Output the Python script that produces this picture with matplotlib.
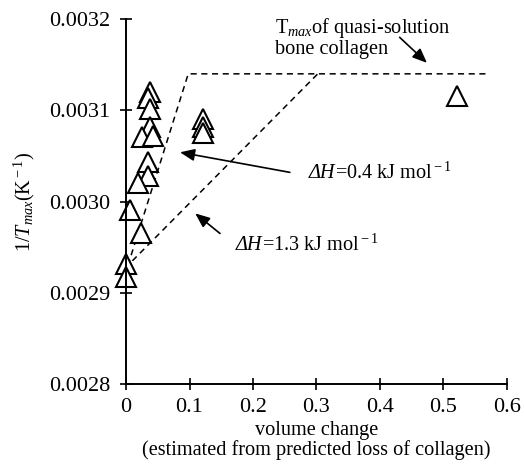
import numpy as np
import matplotlib
matplotlib.use("Agg")
import matplotlib.pyplot as plt

plt.rcParams["font.family"] = ["Liberation Serif", "DejaVu Serif"]
plt.rcParams["mathtext.fontset"] = "custom"
plt.rcParams["mathtext.rm"] = "Liberation Serif"
plt.rcParams["mathtext.it"] = "Liberation Serif:italic"
plt.rcParams["font.size"] = 14.6

# measured points (volume change, 1/Tmax)
vol_change = [0.038, 0.035, 0.038, 0.038, 0.025, 0.043, 0.035, 0.035, 0.019,
              0.006, 0.024, 0.0, 0.0, 0.121, 0.121, 0.121, 0.521]
inv_tmax = [0.003120, 0.003113, 0.003101, 0.003082, 0.003071, 0.003072,
            0.003043, 0.003028, 0.003020, 0.002991, 0.002965, 0.002932,
            0.002917, 0.003091, 0.003082, 0.003075, 0.003116]

# model lines
line_04_x = [0.003, 0.098, 0.573]
line_04_y = [0.00293, 0.00314, 0.00314]
line_13_x = [0.010, 0.302]
line_13_y = [0.002935, 0.00314]

x_ticks = [0, 0.1, 0.2, 0.3, 0.4, 0.5, 0.6]
y_ticks = [0.0028, 0.0029, 0.0030, 0.0031, 0.0032]

fig = plt.figure(figsize=(5.24, 4.66), dpi=100)
ax = fig.add_axes([0.2405, 0.176, 0.727, 0.783])

ax.plot(line_04_x, line_04_y, color="black", lw=1.1, dashes=(4, 3))
ax.plot(line_13_x, line_13_y, color="black", lw=1.1, dashes=(4, 3))
ax.plot(vol_change, inv_tmax, linestyle="none", marker="^", ms=14,
        mfc="white", mec="black", mew=1.5, clip_on=False)

ax.set_xlim(0, 0.6)
ax.set_ylim(0.0028, 0.0032)
ax.set_xticks(x_ticks)
ax.set_xticklabels(["0", "0.1", "0.2", "0.3", "0.4", "0.5", "0.6"])
ax.set_yticks(y_ticks)
ax.set_yticklabels(["%.4f" % v for v in y_ticks])
ax.tick_params(direction="inout", length=8, width=1.2, labelsize=16)
ax.tick_params(axis="y", pad=7)
ax.tick_params(axis="x", pad=6)
for s in ["top", "right"]:
    ax.spines[s].set_visible(False)
for s in ["left", "bottom"]:
    ax.spines[s].set_linewidth(1.4)

ax.set_ylabel(r"$1/T_{max}$(K$^{\rm -1}$)", labelpad=9)
ax.set_xlabel("volume change\n(estimated from predicted loss of collagen)",
              linespacing=1.0, labelpad=3)

arrow = dict(arrowstyle="-|>,head_length=0.6,head_width=0.25", color="black",
             lw=1.2, shrinkA=0, shrinkB=0)
ax.text(0.235, 0.003203, "T$_{max}$of quasi-solution\nbone collagen",
        ha="left", va="top", linespacing=0.95)
ax.annotate("", xy=(0.474, 0.003152), xytext=(0.431, 0.00318),
            arrowprops=arrow, annotation_clip=False)

ax.annotate("", xy=(0.085, 0.003054), xytext=(0.258, 0.003032),
            arrowprops=arrow)
t1 = ax.text(0.287, 0.003031, "ΔH", style="italic", va="center")
ax.annotate("=0.4 kJ mol$^{\\rm -1}$", xy=(1, 0.5), xycoords=t1, va="center")

ax.annotate("", xy=(0.109, 0.002987), xytext=(0.148, 0.002965),
            arrowprops=arrow)
t2 = ax.text(0.172, 0.002952, "ΔH", style="italic", va="center")
ax.annotate("=1.3 kJ mol$^{\\rm -1}$", xy=(1, 0.5), xycoords=t2, va="center")

fig.savefig("out.png", dpi=100)
